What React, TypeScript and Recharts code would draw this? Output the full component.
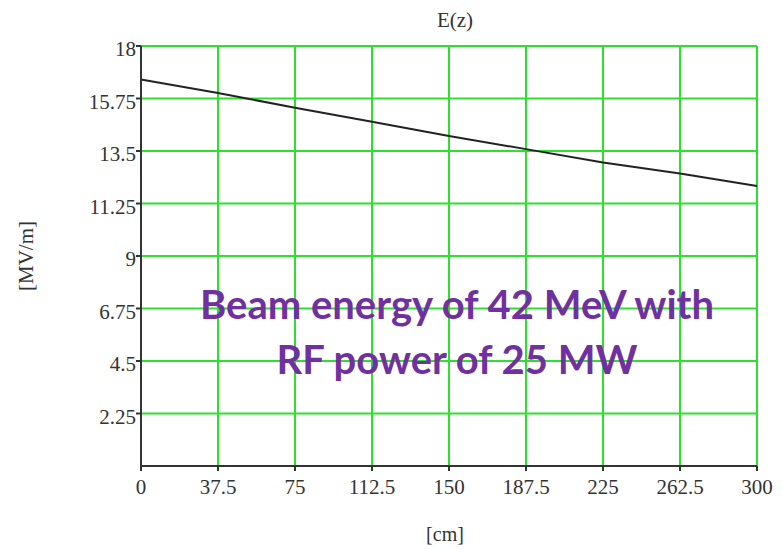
import React from 'react';
import { LineChart, Line, XAxis, YAxis, CartesianGrid } from 'recharts';

const zValues = [0, 37.5, 75, 112.5, 150, 187.5, 225, 262.5, 300];
const eValues = [16.56, 15.99, 15.35, 14.75, 14.14, 13.58, 13.01, 12.54, 12.0];
const xTicks = [0, 37.5, 75, 112.5, 150, 187.5, 225, 262.5, 300];
const yTicks = [2.25, 4.5, 6.75, 9, 11.25, 13.5, 15.75, 18];

const data = zValues.map((z, i) => ({ z, e: eValues[i] }));

const serif = '"Liberation Serif", "DejaVu Serif", serif';

export default function App() {
  return (
    <div style={{ position: 'absolute', left: 0, top: 0, width: 782, height: 549, background: '#fff' }}>
      <LineChart width={782} height={549} data={data} margin={{ top: 46, right: 25, bottom: 0, left: 0 }}>
        <CartesianGrid stroke="#2de02d" strokeWidth={2} horizontalValues={yTicks} verticalValues={xTicks} />
        <XAxis
          dataKey="z"
          type="number"
          domain={[0, 300]}
          ticks={xTicks}
          interval={0}
          height={83}
          stroke="#333"
          strokeWidth={2}
          tickSize={5}
          tickMargin={8}
          tick={{ fill: '#333', fontFamily: serif, fontSize: 21 }}
        />
        <YAxis
          type="number"
          domain={[0, 18]}
          ticks={yTicks}
          interval={0}
          width={141}
          stroke="#333"
          strokeWidth={2}
          tickSize={5}
          tickMargin={0}
          tick={{ fill: '#333', fontFamily: serif, fontSize: 21, dy: 3 } as any}
        />
        <Line type="linear" dataKey="e" stroke="#222" strokeWidth={2} dot={false} isAnimationActive={false} />
        <text x={455} y={27} textAnchor="middle" fill="#333" fontFamily={serif} fontSize={21}>E(z)</text>
        <text x={445} y={541} textAnchor="middle" fill="#333" fontFamily={serif} fontSize={20}>[cm]</text>
        <text x={33} y={256} textAnchor="middle" transform="rotate(-90 33 256)" fill="#333" fontFamily={serif} fontSize={21}>[MV/m]</text>
      </LineChart>
      <div
        style={{
          position: 'absolute',
          left: 157,
          top: 277,
          width: 600,
          textAlign: 'center',
          color: '#7030A0',
          fontFamily: 'Lato, "Open Sans", sans-serif',
          fontWeight: 700,
          fontSize: 40,
          lineHeight: '55px',
        }}
      >
        Beam energy of 42 MeV with<br />RF power of 25 MW
      </div>
    </div>
  );
}
